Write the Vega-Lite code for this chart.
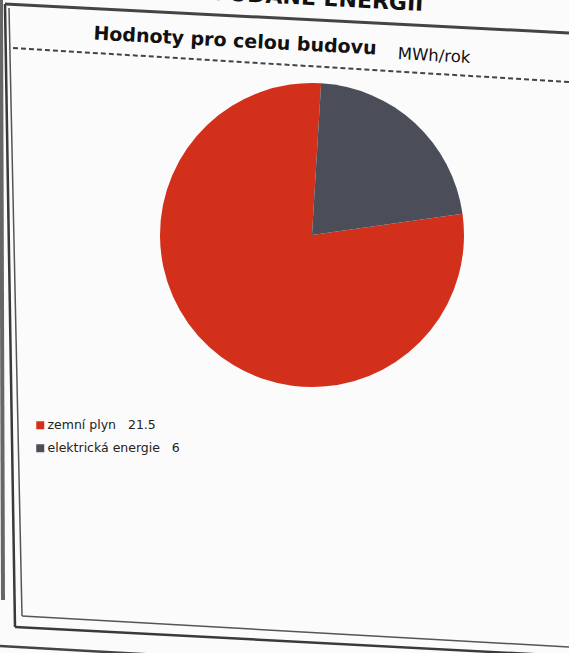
{
  "$schema": "https://vega.github.io/schema/vega-lite/v6.json",
  "width": 569,
  "height": 653,
  "autosize": "none",
  "padding": 0,
  "background": "#fbfbfb",
  "datasets": {
    "energie": [
      {"nositel": "zemní plyn", "hodnota": 21.5, "popis": "zemní plyn\u00a0\u00a0\u00a021.5", "poradi": 2},
      {"nositel": "elektrická energie", "hodnota": 6, "popis": "elektrická energie\u00a0\u00a0\u00a06", "poradi": 1}
    ],
    "jeden": [{}]
  },
  "layer": [
    {
      "data": {"name": "jeden"},
      "mark": {"type": "rule", "stroke": "#666", "strokeWidth": 4},
      "encoding": {"x": {"value": 1}, "y": {"value": 0}, "x2": {"value": 3}, "y2": {"value": 600}}
    },
    {
      "data": {"name": "jeden"},
      "mark": {"type": "rule", "stroke": "#444", "strokeWidth": 3},
      "encoding": {"x": {"value": 5}, "y": {"value": 4}, "x2": {"value": 569}, "y2": {"value": 33}}
    },
    {
      "data": {"name": "jeden"},
      "mark": {"type": "rule", "stroke": "#3a3a3a", "strokeWidth": 2.5},
      "encoding": {"x": {"value": 5}, "y": {"value": 4}, "x2": {"value": 15}, "y2": {"value": 627}}
    },
    {
      "data": {"name": "jeden"},
      "mark": {"type": "rule", "stroke": "#555", "strokeWidth": 1.5},
      "encoding": {"x": {"value": 9}, "y": {"value": 8}, "x2": {"value": 22}, "y2": {"value": 616}}
    },
    {
      "data": {"name": "jeden"},
      "mark": {"type": "rule", "stroke": "#555", "strokeWidth": 1.5},
      "encoding": {"x": {"value": 22}, "y": {"value": 616}, "x2": {"value": 569}, "y2": {"value": 647}}
    },
    {
      "data": {"name": "jeden"},
      "mark": {"type": "rule", "stroke": "#3a3a3a", "strokeWidth": 2.5},
      "encoding": {"x": {"value": 15}, "y": {"value": 627}, "x2": {"value": 569}, "y2": {"value": 656}}
    },
    {
      "data": {"name": "jeden"},
      "mark": {"type": "rule", "stroke": "#444", "strokeWidth": 2.5},
      "encoding": {"x": {"value": 0}, "y": {"value": 646}, "x2": {"value": 160}, "y2": {"value": 655}}
    },
    {
      "data": {"name": "jeden"},
      "mark": {"type": "rule", "stroke": "#444", "strokeWidth": 2, "strokeDash": [5, 3]},
      "encoding": {"x": {"value": 13}, "y": {"value": 48}, "x2": {"value": 569}, "y2": {"value": 82}}
    },
    {
      "data": {"values": [{"t": "PODÍL ENERGONOSITELŮ NA DODANÉ ENERGII"}]},
      "mark": {
        "type": "text",
        "angle": 3,
        "align": "right",
        "baseline": "alphabetic",
        "font": "DejaVu Sans",
        "fontWeight": "bold",
        "fontSize": 22,
        "color": "#111"
      },
      "encoding": {"text": {"field": "t"}, "x": {"value": 423}, "y": {"value": 11}}
    },
    {
      "data": {"values": [{"t": "Hodnoty pro celou budovu"}]},
      "mark": {
        "type": "text",
        "angle": 3,
        "align": "center",
        "baseline": "middle",
        "font": "DejaVu Sans",
        "fontWeight": "bold",
        "fontSize": 19,
        "color": "#111"
      },
      "encoding": {"text": {"field": "t"}, "x": {"value": 235}, "y": {"value": 41}}
    },
    {
      "data": {"values": [{"t": "MWh/rok"}]},
      "mark": {
        "type": "text",
        "angle": 3,
        "align": "center",
        "baseline": "middle",
        "font": "DejaVu Sans",
        "fontSize": 16.5,
        "color": "#111"
      },
      "encoding": {"text": {"field": "t"}, "x": {"value": 434}, "y": {"value": 56}}
    },
    {
      "data": {"name": "energie"},
      "mark": {"type": "arc", "radius": 152, "stroke": null},
      "encoding": {
        "x": {"value": 312},
        "y": {"value": 235},
        "theta": {
          "field": "hodnota",
          "type": "quantitative",
          "stack": true,
          "scale": {"range": [0.06, 6.3432]}
        },
        "order": {"field": "poradi", "type": "quantitative"},
        "color": {
          "field": "popis",
          "type": "nominal",
          "scale": {
            "domain": ["zemní plyn\u00a0\u00a0\u00a021.5", "elektrická energie\u00a0\u00a0\u00a06"],
            "range": ["#d3301c", "#4b4e58"]
          },
          "legend": {
            "orient": "none",
            "legendX": 34,
            "legendY": 419,
            "title": null,
            "symbolType": "square",
            "symbolSize": 64,
            "symbolStrokeWidth": 0,
            "labelFont": "DejaVu Sans",
            "labelFontSize": 12.5,
            "labelColor": "#222",
            "labelOffset": 1,
            "rowPadding": 10
          }
        }
      }
    }
  ],
  "config": {
    "view": {"stroke": null}
  }
}
